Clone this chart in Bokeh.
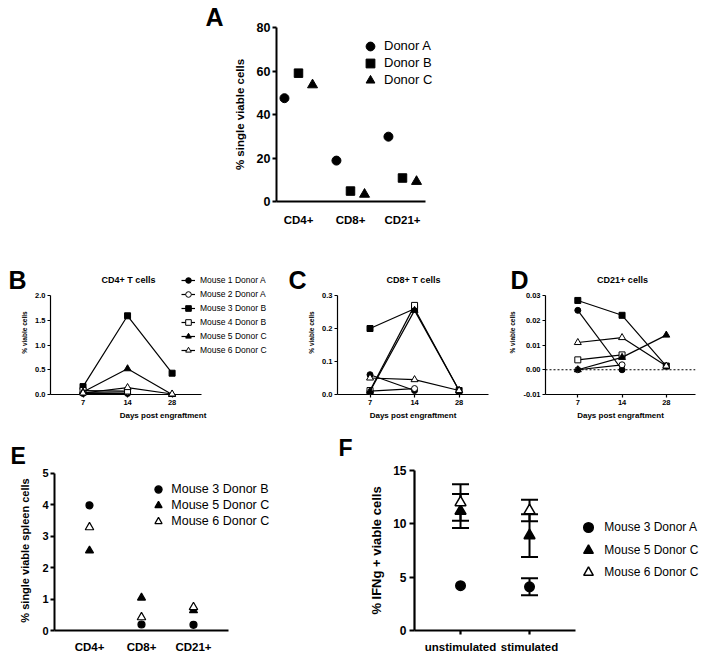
import numpy as np
from bokeh.plotting import figure
from bokeh.layouts import column, row, Spacer
from bokeh.models import (ColumnDataSource, FixedTicker, PrintfTickFormatter, Legend, LegendItem,
                          Span, Whisker, TeeHead, Range1d)
from bokeh.core.properties import value
from bokeh.embed import file_html
from bokeh.resources import INLINE

FONT = "Liberation Sans"
nan = float("nan")

# ---------------- data ----------------
# Panel A
a_categories = ["CD4+", "CD8+", "CD21+"]
a_donors = ["Donor A", "Donor B", "Donor C"]
a_donor_a = [47.5, 18.8, 29.8]
a_donor_b = [59.0, 4.8, 10.8]
a_donor_c = [53.6, 3.3, 9.2]
a_yticks = [0, 20, 40, 60, 80]

# Panels B-D
days = ["7", "14", "28"]
mice = ["Mouse 1 Donor A", "Mouse 2 Donor A", "Mouse 3 Donor B",
        "Mouse 4 Donor B", "Mouse 5 Donor C", "Mouse 6 Donor C"]

b_mouse1 = [0.02, 0.02, nan]
b_mouse2 = [0.04, 0.05, nan]
b_mouse3 = [0.16, 1.59, 0.43]
b_mouse4 = [0.08, 0.07, nan]
b_mouse5 = [0.05, 0.52, 0.0]
b_mouse6 = [0.03, 0.14, 0.01]
b_yticks = [0.0, 0.5, 1.0, 1.5, 2.0]

c_mouse1 = [0.06, 0.012, nan]
c_mouse2 = [0.01, 0.018, nan]
c_mouse3 = [0.20, 0.26, 0.012]
c_mouse4 = [0.012, 0.27, nan]
c_mouse5 = [0.01, 0.255, 0.012]
c_mouse6 = [0.05, 0.045, 0.012]
c_yticks = [0.0, 0.1, 0.2, 0.3]

d_mouse1 = [0.024, 0.000, nan]
d_mouse2 = [0.000, 0.002, nan]
d_mouse3 = [0.028, 0.022, 0.0015]
d_mouse4 = [0.004, 0.006, nan]
d_mouse5 = [0.000, 0.005, 0.014]
d_mouse6 = [0.011, 0.013, 0.0015]
d_yticks = [-0.01, 0.00, 0.01, 0.02, 0.03]

# Panel E
e_categories = ["CD4+", "CD8+", "CD21+"]
e_mice = ["Mouse 3 Donor B", "Mouse 5 Donor C", "Mouse 6 Donor C"]
e_mouse3 = [3.98, 0.19, 0.18]
e_mouse5 = [2.54, 1.04, 0.64]
e_mouse6 = [3.28, 0.42, 0.74]
e_yticks = [0, 1, 2, 3, 4, 5]

# Panel F
f_conditions = ["unstimulated", "stimulated"]
f_mice = ["Mouse 3 Donor A", "Mouse 5 Donor C", "Mouse 6 Donor C"]
f_mouse3 = [4.2, 4.1]
f_mouse3_err = [0.0, 0.8]
f_mouse5 = [11.2, 8.9]
f_mouse5_err = [1.6, 2.0]
f_mouse6 = [12.0, 11.25]
f_mouse6_err = [1.7, 1.0]
f_yticks = [0, 5, 10, 15]


# ---------------- helpers ----------------
def make_fig(left, fw, right, top, fh, bottom, xr, yr):
    p = figure(width=left + fw + right, height=top + fh + bottom,
               min_border_left=left, min_border_right=right,
               min_border_top=top, min_border_bottom=bottom,
               x_range=Range1d(*xr), y_range=Range1d(*yr),
               output_backend="svg", toolbar_location=None, tools="")
    p.outline_line_color = None
    p.grid.visible = False
    p.title.visible = False
    p.background_fill_color = "white"
    p.border_fill_color = "white"
    # pixel-based helper ranges (origin = bottom-left of the frame) for panel letters/titles
    p.extra_x_ranges = {"px": Range1d(0, fw)}
    p.extra_y_ranges = {"px": Range1d(0, fh)}
    return p


def style_axes(p, lw, xt_size, xt_out, xt_stand, yt_size, yt_out, yt_stand,
               ylab, ylab_size, ylab_stand, xlab=None, xlab_size="8px", xlab_stand=3):
    for ax in (p.xaxis[0], p.yaxis[0]):
        ax.axis_line_width = lw
        ax.axis_line_color = "black"
        ax.major_tick_line_width = lw
        ax.major_tick_line_color = "black"
        ax.minor_tick_line_color = None
        ax.major_tick_in = 0
        ax.major_label_text_font = FONT
        ax.major_label_text_font_style = "bold"
        ax.major_label_text_color = "black"
        ax.axis_label_text_font = FONT
        ax.axis_label_text_font_style = "bold"
        ax.axis_label_text_color = "black"
    xa, ya = p.xaxis[0], p.yaxis[0]
    xa.major_label_text_font_size = xt_size
    xa.major_tick_out = xt_out
    if xt_out == 0:
        xa.major_tick_line_color = None
    xa.major_label_standoff = xt_stand
    ya.major_label_text_font_size = yt_size
    ya.major_tick_out = yt_out
    ya.major_label_standoff = yt_stand
    ya.axis_label = ylab
    ya.axis_label_text_font_size = ylab_size
    ya.axis_label_standoff = ylab_stand
    if xlab:
        xa.axis_label = xlab
        xa.axis_label_text_font_size = xlab_size
        xa.axis_label_standoff = xlab_stand


def set_xcats(p, positions, labels):
    p.xaxis[0].ticker = FixedTicker(ticks=[float(v) for v in positions])
    p.xaxis[0].major_label_overrides = {float(v): lab for v, lab in zip(positions, labels)}


def px_text(p, txt, x, y, size, align="left", baseline="alphabetic"):
    p.text(x=[x], y=[y], text=[txt], x_range_name="px", y_range_name="px",
           text_font=value(FONT), text_font_style="bold", text_font_size=size,
           text_baseline=baseline, text_align=align, text_color="black",
           level="overlay")


def add_legends(p, items, x, row_centers, glyph_w, glyph_h, font_size, standoff):
    # one single-item legend per row, so that row spacing and marker size are independent
    for it, yc in zip(items, row_centers):
        leg = Legend(items=[it], location=(x, yc - glyph_h / 2), glyph_width=glyph_w,
                     glyph_height=glyph_h, spacing=0, padding=0, margin=0,
                     label_standoff=standoff, label_height=8, label_text_font=FONT,
                     label_text_font_size=font_size, label_text_color="black",
                     border_line_color=None, background_fill_alpha=0)
        p.add_layout(leg)


# ---------------- Panel A ----------------
# frame extends right of the x axis (axis line limited by bounds) to hold the legend
a_x = np.arange(1, len(a_categories) + 1)
pA = make_fig(86, 164, 263, 27, 174, 49, (0.577, 3.731), (0, 80))
style_axes(pA, 2, "11.5px", 0, 12, "12.5px", 4, 2, "% single viable cells", "11.5px", 8)
set_xcats(pA, a_x, a_categories)
pA.xaxis[0].bounds = (0.577, 3.442)
pA.yaxis[0].ticker = FixedTicker(ticks=a_yticks)
a_items = []
for vals, name, mk, sz, dx in zip([a_donor_a, a_donor_b, a_donor_c], a_donors,
                                   ["circle", "square", "triangle"], [9, 8.5, 10],
                                   [-0.27, 0.0, 0.27]):
    src = ColumnDataSource(dict(x=a_x + dx, y=vals))
    r = pA.scatter("x", "y", source=src, marker=mk, size=sz, fill_color="black",
                   line_color="black", level="annotation")
    a_items.append(LegendItem(label=name, renderers=[r]))
add_legends(pA, a_items, 83, [155.3, 138.3, 121.3], 22, 22, "13px", 3)
px_text(pA, "A", -71, 184.3, "25px")

# ---------------- Panels B-D ----------------
d_x = np.arange(1, len(days) + 1)
mk_list = ["circle", "circle", "square", "square", "triangle", "triangle"]
fill_list = ["black", "white", "black", "white", "black", "white"]
size_list = [6, 6, 6, 6, 7, 7]


def time_panel(left, fw, right, series, yr, yticks, fmt, title, title_x, let, let_x,
               legend=False, axis_px=151):
    x_end = 0.27 + fw * (3.66 - 0.27) / axis_px
    y0, y1 = yr
    y_top = y1 + 25 * (y1 - y0) / 99          # frame reaches 25px above the top tick
    p = make_fig(left, fw, right, 20, 124, 36, (0.27, x_end), (y0, y_top))
    style_axes(p, 1.2, "7.5px", 3, 2, "7.5px", 3, 2, "% viable cells", "6.5px", 4,
               xlab="Days post engraftment", xlab_size="8px", xlab_stand=3)
    set_xcats(p, d_x, days)
    p.xaxis[0].bounds = (0.27, 3.66)
    p.yaxis[0].bounds = (y0, y1)
    p.yaxis[0].ticker = FixedTicker(ticks=yticks)
    p.yaxis[0].formatter = PrintfTickFormatter(format=fmt)
    items = []
    for vals, name, mk, fc, sz in zip(series, mice, mk_list, fill_list, size_list):
        src = ColumnDataSource(dict(x=d_x, y=vals))
        rl = p.line("x", "y", source=src, line_color="black", line_width=1.2, level="annotation")
        rs = p.scatter("x", "y", source=src, marker=mk, size=sz, fill_color=fc,
                       line_color="black", line_width=1, level="annotation")
        items.append(LegendItem(label=name, renderers=[rl, rs]))
    if legend:
        add_legends(p, items, 131, [114.3, 100.3, 86.3, 72.3, 58.3, 44.3], 14, 14, "8.5px", 5)
    px_text(p, title, title_x, 115, "9px", align="center", baseline="middle")
    px_text(p, let, let_x, 114.7, "25px")
    return p


pB = time_panel(50, 225, 5, [b_mouse1, b_mouse2, b_mouse3, b_mouse4, b_mouse5, b_mouse6],
                (0, 2.0), b_yticks, "%.1f", "CD4+ T cells", 78, "B", -42, legend=True,
                axis_px=151)
pC = time_panel(57, 151, 17, [c_mouse1, c_mouse2, c_mouse3, c_mouse4, c_mouse5, c_mouse6],
                (0, 0.3), c_yticks, "%.1f", "CD8+ T cells", 76, "C", -49, axis_px=151)
pD = time_panel(40, 150, 8, [d_mouse1, d_mouse2, d_mouse3, d_mouse4, d_mouse5, d_mouse6],
                (-0.01, 0.03), d_yticks, "%.2f", "CD21+ cells", 77, "D", -35, axis_px=150)
pD.add_layout(Span(location=0, dimension="width", line_color="black", line_width=1.2,
                   line_dash="2 2"))

# ---------------- Panel E ----------------
e_x = np.arange(1, len(e_categories) + 1)
pE = make_fig(54, 216, 60, 40, 160, 28, (0.327, 4.481), (0, 5.086))
style_axes(pE, 2, "11.5px", 0, 10, "11px", 4, 2, "% single viable spleen cells", "11px", 8)
set_xcats(pE, e_x, e_categories)
pE.xaxis[0].bounds = (0.327, 3.673)
pE.yaxis[0].ticker = FixedTicker(ticks=e_yticks)
pE.yaxis[0].bounds = (0, 5)
e_items = []
for vals, name, mk, fc, sz in zip([e_mouse3, e_mouse5, e_mouse6], e_mice,
                                  ["circle", "triangle", "triangle"],
                                  ["black", "black", "white"], [7, 8, 8.5]):
    src = ColumnDataSource(dict(x=e_x, y=vals))
    r = pE.scatter("x", "y", source=src, marker=mk, size=sz, fill_color=fc,
                   line_color="black", line_width=1.2, level="annotation")
    e_items.append(LegendItem(label=name, renderers=[r]))
add_legends(pE, e_items, 95.3, [141, 125, 109], 18, 18, "12.5px", 4)
px_text(pE, "E", -44, 175, "23px")

# ---------------- Panel F ----------------
f_x = np.arange(1, len(f_conditions) + 1)
pF = make_fig(84, 286, 3, 40, 160, 28, (0.333, 4.478), (0, 15))
style_axes(pF, 2.2, "11.5px", 4, 6, "12px", 5, 3, "% IFNg + viable cells", "13px", 6)
set_xcats(pF, f_x, f_conditions)
pF.xaxis[0].bounds = (0.333, 2.667)
pF.yaxis[0].ticker = FixedTicker(ticks=f_yticks)
f_items = []
for vals, errs, name, mk, fc, sz in zip([f_mouse3, f_mouse5, f_mouse6],
                                        [f_mouse3_err, f_mouse5_err, f_mouse6_err], f_mice,
                                        ["circle", "triangle", "triangle"],
                                        ["black", "black", "white"], [9.5, 11, 11]):
    keep = [i for i, e in enumerate(errs) if e > 0]
    if keep:
        wsrc = ColumnDataSource(dict(base=[float(f_x[i]) for i in keep],
                                     upper=[vals[i] + errs[i] for i in keep],
                                     lower=[vals[i] - errs[i] for i in keep]))
        pF.add_layout(Whisker(base="base", upper="upper", lower="lower", source=wsrc,
                              dimension="height", line_width=2, line_color="black",
                              upper_head=TeeHead(size=17, line_width=2, line_color="black"),
                              lower_head=TeeHead(size=17, line_width=2, line_color="black")))
    src = ColumnDataSource(dict(x=f_x, y=vals))
    r = pF.scatter("x", "y", source=src, marker=mk, size=sz, fill_color=fc,
                   line_color="black", line_width=1.5, level="overlay")
    f_items.append(LegendItem(label=name, renderers=[r]))
add_legends(pF, f_items, 162.3, [102.7, 80.4, 58.2], 24, 24, "12px", 4)
px_text(pF, "F", -76, 182.7, "23px")

# ---------------- layout ----------------
layout = column(row(Spacer(width=190, height=250), pA),
                row(pB, pC, pD),
                row(pE, pF))

open("out.html", "w").write(file_html(layout, INLINE))
